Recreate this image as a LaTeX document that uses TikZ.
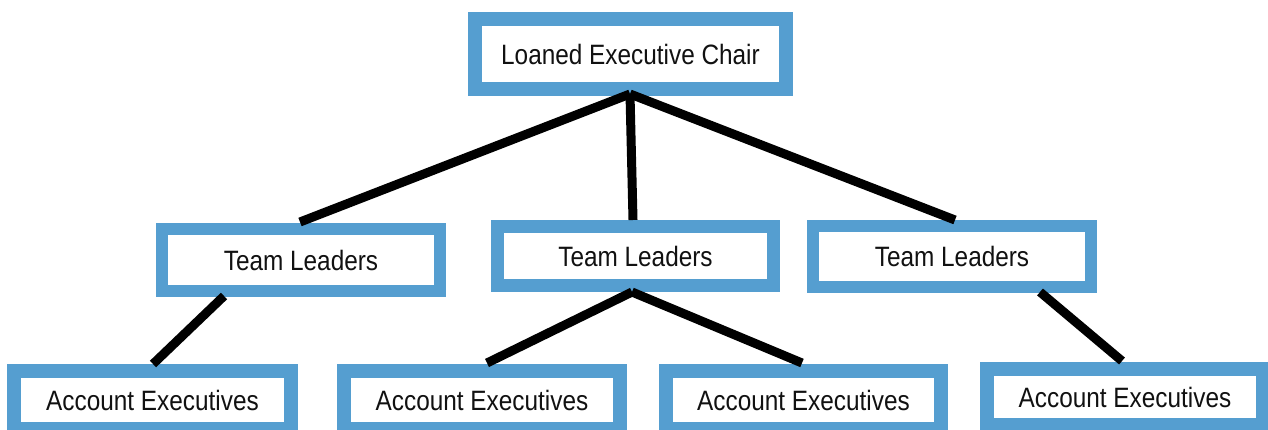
\documentclass[tikz,border=0pt]{standalone}
\usepackage{fontspec}
\setmainfont[FakeStretch=0.87]{Liberation Sans}
\definecolor{boxblue}{HTML}{559ED0}
\definecolor{txt}{HTML}{111111}
\begin{document}
\begin{tikzpicture}[x=1pt,y=-1pt,
  orgbox/.style={draw=boxblue, fill=white, rectangle, inner sep=0pt, text=txt,
    font=\fontsize{28}{32}\selectfont},
  link/.style={draw=black, line width=9pt, line cap=butt}]
\clip (0,0) rectangle (1268,430);
\useasboundingbox (0,0) rectangle (1268,430);
% nodes
\node[orgbox, line width=14pt, minimum width=311pt, minimum height=70pt] (chair) at (630.5,54) {Loaned Executive Chair};
\node[orgbox, line width=12pt, minimum width=278pt, minimum height=62pt] (tl1) at (301,260) {Team Leaders};
\node[orgbox, line width=13pt, minimum width=276pt, minimum height=59pt] (tl2) at (635.5,256) {Team Leaders};
\node[orgbox, line width=12pt, minimum width=278pt, minimum height=61pt] (tl3) at (952,256.5) {Team Leaders};
\node[orgbox, line width=14pt, minimum width=277pt, minimum height=58pt] (ae1) at (152.5,400) {Account Executives};
\node[orgbox, line width=14pt, minimum width=276pt, minimum height=58pt] (ae2) at (482,400) {Account Executives};
\node[orgbox, line width=14pt, minimum width=275pt, minimum height=58pt] (ae3) at (803.5,400) {Account Executives};
\node[orgbox, line width=14pt, minimum width=276pt, minimum height=56pt] (ae4) at (1125,397) {Account Executives};
% connector endpoints
\coordinate (apex) at (630,94);
\coordinate (c1) at (300,222);
\coordinate (c2) at (633,220);
\coordinate (c3) at (955,220);
\coordinate (t1b) at (224,296);
\coordinate (a1t) at (153,364);
\coordinate (t2b) at (632,292);
\coordinate (a2t) at (487,363);
\coordinate (a3t) at (802,363);
\coordinate (t3b) at (1040,292);
\coordinate (a4t) at (1122,361);
\begin{scope}[on background layer/.try]
\end{scope}
\draw[link] (apex) -- (c1);
\draw[link] (apex) -- (c2);
\draw[link] (apex) -- (c3);
\draw[link] (t1b) -- (a1t);
\draw[link] (t2b) -- (a2t);
\draw[link] (t2b) -- (a3t);
\draw[link] (t3b) -- (a4t);
\end{tikzpicture}
\end{document}
